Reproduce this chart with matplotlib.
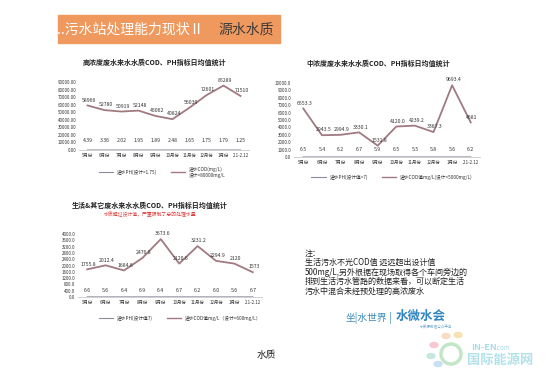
import matplotlib.pyplot as plt
from matplotlib.lines import Line2D
from matplotlib.patches import Rectangle, Ellipse
import numpy as np

plt.rcParams['font.family'] = ['Noto Sans CJK SC', 'DejaVu Sans']

W, H = 560, 374

months = ['5月份', '6月份', '7月份', '8月份', '9月份', '10月份', '11月份', '12月份', '1月份', '2.1-2.12']

high_cod = [58966, 52780, 50919, 52148, 45062, 40824, 56039, 72601, 85289, 71510]
high_ph = [4.39, 3.36, 2.02, 1.95, 1.89, 2.48, 1.65, 1.75, 1.79, 1.25]

mid_cod = [6553.3, 2943.5, 2994.9, 3330.1, 1531.8, 4120.0, 4239.2, 3367.3, 9693.4, 4681]
mid_ph = [6.5, 5.4, 6.2, 6.7, 5.9, 6.5, 5.5, 5.8, 5.6, 6.2]

dom_cod = [1755.8, 2012.4, 1684.8, 2476.8, 3673.6, 2120.6, 3231.2, 2294.9, 2120, 1573]
dom_ph = [6.6, 5.6, 6.4, 6.9, 6.4, 6.7, 6.2, 6.0, 5.6, 6.7]

note_lines = ['注：',
              '生活污水不光COD值 远远超出设计值',
              '500mg/L,另外根据在现场取得各个车间旁边的',
              '排到生活污水管路的数据来看，可以断定生活',
              '污水中混合未经预处理的高浓废水']

COD_C = '#a07a80'
PH_C = '#8c8c9c'
TXT = '#333333'


def rect(x0, x1, y0, y1):
    return [x0 / W, 1 - y1 / H, (x1 - x0) / W, (y1 - y0) / H]


def fxy(x, y):
    return x / W, 1 - y / H


def chart(box, cod, ph, ymax, ystep, tick_fmt, ph_fmt, ph_off, leg_xy, leg_ph, leg_cod):
    ax = fig.add_axes(rect(*box))
    x = np.arange(len(months))
    ax.plot(x, ph, color=PH_C, lw=0.8)
    ax.plot(x, cod, color=COD_C, lw=1.3)
    for xi, v in zip(x, cod):
        ax.annotate(str(v), (xi, v), xytext=(1, 2), textcoords='offset points',
                    ha='center', va='bottom', fontsize=3.7, color=TXT)
    for xi, v in zip(x, ph):
        ax.annotate(ph_fmt % v, (xi, v), xytext=(0, ph_off), textcoords='offset points',
                    ha='center', va='center', fontsize=3.7, color=TXT)
    ticks = np.arange(0, ymax + 1, ystep)
    ax.set_xlim(-0.5, len(months) - 0.5)
    ax.set_ylim(0, ymax)
    ax.set_yticks(ticks)
    ax.set_yticklabels([tick_fmt % t for t in ticks])
    ax.set_xticks(x)
    ax.set_xticklabels(months)
    ax.tick_params(axis='both', length=0, labelsize=3.2, colors=TXT, pad=2)
    for s in ['top', 'right', 'left']:
        ax.spines[s].set_visible(False)
    ax.spines['bottom'].set_color('#c8c8c8')
    ax.spines['bottom'].set_linewidth(0.6)
    ax.set_facecolor('none')
    handles = [Line2D([], [], color=PH_C, lw=0.8), Line2D([], [], color=COD_C, lw=1.0)]
    ax.legend(handles, [leg_ph, leg_cod], loc='center', bbox_to_anchor=fxy(*leg_xy),
              bbox_transform=fig.transFigure, ncol=2, frameon=False, fontsize=3.4,
              handlelength=3, columnspacing=3, labelcolor=TXT)
    return ax


fig = plt.figure(figsize=(W / 100, H / 100), dpi=100)
fig.patch.set_facecolor('white')

# header band
fig.patches.append(Rectangle(fxy(58, 43), 222 / W, 28 / H, transform=fig.transFigure,
                             color='#f0995f', zorder=0))
fig.text(*fxy(57, 30), '..污水站处理能力现状Ⅱ', fontsize=10, color='white',
         va='center', ha='left')
fig.text(*fxy(218, 30), '源水水质', fontsize=10, color='#3a3a3a', va='center', ha='left')

# chart 1: high concentration
fig.text(*fxy(154, 62), '高浓度废水来水水质COD、PH指标日均值统计', fontsize=5.0,
         fontweight='bold', color='#222222', ha='center', va='center')
chart((79, 249, 82, 150), high_cod, high_ph, 90000, 10000, '%.2f', '%.2f', 6.5,
      (162, 172), '进水PH(设计>1.75)', '进水COD(mg/L)\n设计<80000mg/L')

# chart 2: middle concentration
fig.text(*fxy(378, 63), '中浓度废水来水水质COD、PH指标日均值统计', fontsize=5.0,
         fontweight='bold', color='#222222', ha='center', va='center')
chart((294, 480, 83, 157), mid_cod, mid_ph, 10000, 1000, '%.1f', '%.1f', 5.5,
      (392, 177), '进水PH(设计值=7)', '进水COD值mg/L(设计<5000mg/L)')

# chart 3: domestic & others
fig.text(*fxy(150, 205), '生活&其它废水来水水质COD、PH指标日均值统计', fontsize=5.0,
         fontweight='bold', color='#222222', ha='center', va='center')
fig.text(*fxy(150, 214), '水质超过设计值，严重限制了总的处理水量', fontsize=3.5,
         color='#e03c3c', ha='center', va='center')
chart((78, 262, 234, 297), dom_cod, dom_ph, 4000, 400, '%.1f', '%.1f', 4.5,
      (180, 318), '进水PH(设计值7)', '进水COD值mg/L（设计<600mg/L）')

# note
for i, line in enumerate(note_lines):
    fig.text(*fxy(305, 253 + i * 9.6), line, fontsize=5.8, color='#222222',
             ha='left', va='center')

# logos
fig.text(*fxy(346, 318), '坐|水世界', fontsize=7, color='#3a88b8', style='italic',
         ha='left', va='center')
fig.text(*fxy(389, 318), '|', fontsize=8, color='#5a9cc4', ha='left', va='center')
fig.text(*fxy(396, 316), '水微水会', fontsize=9, color='#2f86c0', fontweight='bold',
         ha='left', va='center')
fig.text(*fxy(420, 327), '水资源微信公众平台', fontsize=2.6, color='#5a9cc4',
         ha='left', va='center')

# watermark
petals = [('#f9dcc4', 446, 336), ('#f8c8d2', 434, 345), ('#f7e2b4', 458, 335),
          ('#c6e8de', 431, 356), ('#c8e0f0', 438, 364)]
for c, px, py in petals:
    fig.patches.append(Ellipse(fxy(px, py), 8 / W, 5 / H, transform=fig.transFigure,
                               color=c, zorder=0))
fig.patches.append(Ellipse(fxy(451, 354), 20 / W, 20 / H, transform=fig.transFigure,
                           fill=False, ec='#c2e6c8', lw=2.5, zorder=0))
fig.text(*fxy(471, 347), 'IN-EN', fontsize=6.5, color='#a6dce6', fontweight='bold',
         ha='left', va='center')
fig.text(*fxy(496, 348), '.com', fontsize=4.5, color='#a6dce6', ha='left', va='center')
fig.text(*fxy(467, 360), '国际能源网', fontsize=9.5, color='#b2e1ea', fontweight='bold',
         ha='left', va='center')

# caption
fig.text(*fxy(266, 355), '水质', fontsize=7, color='#222222', ha='center', va='center')

fig.savefig('out.png', dpi=100)
